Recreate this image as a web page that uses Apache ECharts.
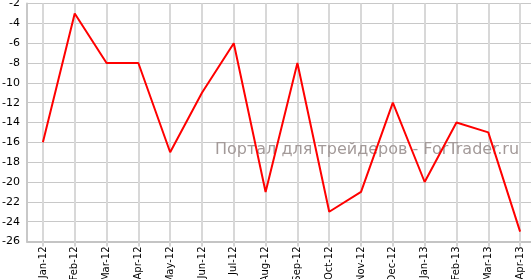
<!DOCTYPE html>
<html><head><meta charset="utf-8">
<script src="https://cdn.jsdelivr.net/npm/echarts@6/dist/echarts.min.js"></script>
<style>html,body{margin:0;padding:0;background:#fff}#c{width:531px;height:279px}</style>
</head><body><div id="c"></div>
<script>
const categories = ['Jan-12','Feb-12','Mar-12','Apr-12','May-12','Jun-12','Jul-12','Aug-12','Sep-12','Oct-12','Nov-12','Dec-12','Jan-13','Feb-13','Mar-13','Apr-13'];
const values = [-16,-3,-8,-8,-17,-11,-6,-21,-8,-23,-21,-12,-20,-14,-15,-25];
const watermark = 'Портал для трейдеров - ForTrader.ru';

const chart = echarts.init(document.getElementById('c'));
chart.setOption({
  animation: false,
  grid: {left: 27, top: 3.5, width: 509, height: 238, containLabel: false, outerBoundsMode: 'none'},
  graphic: [{type: 'text', left: 215, top: 142, z: 1, silent: true,
    style: {text: watermark, font: '16px "DejaVu Sans"', fill: '#a39a99'}}],
  xAxis: {
    type: 'category', data: categories, boundaryGap: true,
    axisLine: {lineStyle: {color: '#c4c4c4', width: 2}},
    axisTick: {show: true, alignWithLabel: true, length: 5, lineStyle: {color: '#d4d4d4', width: 2}},
    splitLine: {show: true, alignWithLabel: true, lineStyle: {color: '#d8d8d8', width: 2}},
    axisLabel: {rotate: 90, margin: 5, color: '#000', fontFamily: 'DejaVu Sans', fontSize: 10, interval: 0}
  },
  yAxis: {
    type: 'value', min: -26, max: -2, interval: 2,
    axisLine: {show: true, lineStyle: {color: '#c8c8c8', width: 2}},
    axisTick: {show: false},
    splitLine: {lineStyle: {color: '#c8c8c8', width: 1}},
    axisLabel: {color: '#000', fontFamily: 'DejaVu Sans', fontSize: 11, margin: 7}
  },
  series: [{type: 'line', data: values, showSymbol: false, symbol: 'none',
    lineStyle: {color: '#ff0000', width: 2}, z: 3}]
});
</script></body></html>
